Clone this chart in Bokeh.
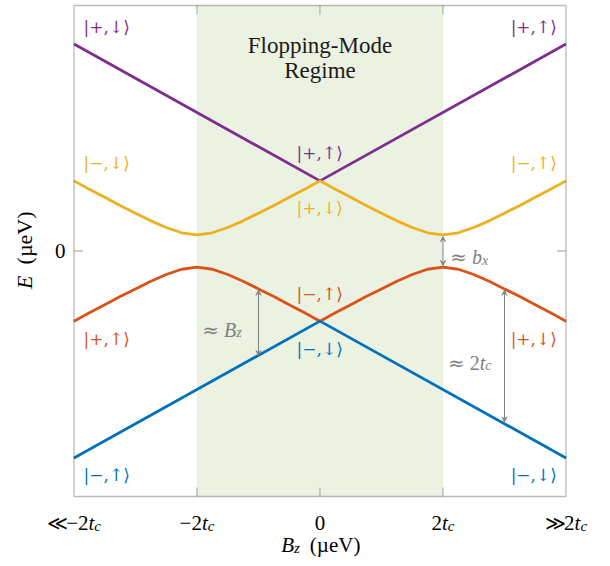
from bokeh.plotting import figure
from bokeh.models import Label, Arrow, VeeHead, BoxAnnotation, Range1d
from bokeh.embed import file_html
from bokeh.resources import INLINE
import math

# ---------------- data ----------------
bz_lines = [-4, 0, 4]
e_purple = [5.9, 2.0, 5.9]
e_blue = [-5.9, -2.0, -5.9]

bz_curve = [-4.0, -3.75, -3.5, -3.25, -3.0, -2.75, -2.5, -2.25, -2.0, -1.75, -1.5, -1.25, -1.0,
            -0.75, -0.5, -0.25, 0.0, 0.25, 0.5, 0.75, 1.0, 1.25, 1.5, 1.75, 2.0, 2.25, 2.5,
            2.75, 3.0, 3.25, 3.5, 3.75, 4.0]
e_yellow = [2.00, 1.76, 1.53, 1.30, 1.08, 0.86, 0.67, 0.52, 0.46, 0.52, 0.67, 0.86, 1.08,
            1.30, 1.53, 1.76, 2.00, 1.76, 1.53, 1.30, 1.08, 0.86, 0.67, 0.52, 0.46, 0.52, 0.67,
            0.86, 1.08, 1.30, 1.53, 1.76, 2.00]
e_red = [-2.00, -1.76, -1.53, -1.30, -1.08, -0.86, -0.67, -0.52, -0.46, -0.52, -0.67, -0.86, -1.08,
         -1.30, -1.53, -1.76, -2.00, -1.76, -1.53, -1.30, -1.08, -0.86, -0.67, -0.52, -0.46, -0.52, -0.67,
         -0.86, -1.08, -1.30, -1.53, -1.76, -2.00]

# plot box (axis limits) and shaded flopping-mode regime
x_min, x_max = -4, 4
e_min, e_max = -7, 7
regime_left, regime_right = -2, 2

# ticks and tick labels
x_ticks = [-2, 0, 2]
y_ticks = [0]
tick_values = [-4, -2, 0, 2, 4]
tick_rel = ["≪", "", "", "", "≫"]
tick_num = ["−2", "−2", "0", "2", "2"]
tick_var = ["t", "t", "", "t", "t"]
tick_sub = ["c", "c", "", "c", "c"]

# state labels
ket_text = ["|+,↓⟩", "|+,↑⟩", "|−,↓⟩", "|−,↑⟩", "|+,↑⟩", "|+,↓⟩",
            "|−,↑⟩", "|−,↓⟩", "|+,↑⟩", "|+,↓⟩", "|−,↑⟩", "|−,↓⟩"]
ket_color = ["purple", "purple", "yellow", "yellow", "purple", "yellow",
             "red", "blue", "red", "red", "blue", "blue"]
ket_x = [-3.845, 3.10, -3.845, 3.10, -0.38, -0.38, -0.38, -0.38, -3.845, 3.10, -3.845, 3.10]
ket_e = [6.39, 6.39, 2.51, 2.51, 2.79, 1.23, -1.23, -2.79, -2.51, -2.51, -6.39, -6.39]

# gap arrows
arrow_x = [2, -1, 3]
arrow_top = [0.41, -1.12, -1.12]
arrow_bot = [-0.41, -2.98, -4.87]

COLORS = {"purple": "#7E2F8E", "yellow": "#EDB120", "red": "#D95319", "blue": "#0072BD"}
FONT = "Liberation Serif"
SYM_SERIF = "DejaVu Serif"
SYM_SANS = "DejaVu Sans"
GRAY = "#808080"
TICK = "#a0a0a0"

# ---------------- figure (whole canvas is the data area) ----------------
p = figure(width=610, height=566, x_range=Range1d(-5.195, 4.724), y_range=Range1d(-8.996, 7.143),
           output_backend="svg", toolbar_location=None,
           min_border_left=0, min_border_right=0, min_border_top=0, min_border_bottom=0,
           x_axis_location=None, y_axis_location=None)
p.grid.visible = False
p.outline_line_color = None
p.background_fill_color = "white"
p.border_fill_color = "white"

p.add_layout(BoxAnnotation(left=regime_left, right=regime_right, bottom=e_min, top=e_max,
                           fill_color="#ECF2E2", fill_alpha=1.0, line_color=None, level="underlay"))

# tick marks (inward, on all four sides)
tx = 9 / 61.5
ty = 9 / 35.07
p.segment(x0=x_ticks, y0=[e_min] * len(x_ticks), x1=x_ticks, y1=[e_min + ty] * len(x_ticks),
          line_color=TICK, line_width=1)
p.segment(x0=x_ticks, y0=[e_max] * len(x_ticks), x1=x_ticks, y1=[e_max - ty] * len(x_ticks),
          line_color=TICK, line_width=1)
p.segment(x0=[x_min] * len(y_ticks), y0=y_ticks, x1=[x_min + tx] * len(y_ticks), y1=y_ticks,
          line_color=TICK, line_width=1)
p.segment(x0=[x_max] * len(y_ticks), y0=y_ticks, x1=[x_max - tx] * len(y_ticks), y1=y_ticks,
          line_color=TICK, line_width=1)

p.line(bz_lines, e_purple, line_color=COLORS["purple"], line_width=2.8)
p.line(bz_curve, e_yellow, line_color=COLORS["yellow"], line_width=2.8)
p.line(bz_curve, e_red, line_color=COLORS["red"], line_width=2.8)
p.line(bz_lines, e_blue, line_color=COLORS["blue"], line_width=2.8)

# plot frame
p.add_layout(BoxAnnotation(left=x_min, right=x_max, bottom=e_min, top=e_max, fill_color=None,
                           fill_alpha=0, line_color="#1e1e1e", line_width=1.3, level="overlay"))

for xa, yt, yb in zip(arrow_x, arrow_top, arrow_bot):
    p.add_layout(Arrow(x_start=xa, y_start=yb, x_end=xa, y_end=yt,
                       start=VeeHead(size=5, fill_color=GRAY, line_color=GRAY, line_width=1),
                       end=VeeHead(size=5, fill_color=GRAY, line_color=GRAY, line_width=1),
                       line_color=GRAY, line_width=1))

for t, c, xk, ek in zip(ket_text, ket_color, ket_x, ket_e):
    p.add_layout(Label(x=xk, y=ek, text=t, text_color=COLORS[c], text_font=SYM_SERIF,
                       text_font_size="17px", text_align="left", text_baseline="middle"))

# ---------------- mixed-style text helper ----------------
WN = {"−": 0.564, "2": 0.5, "0": 0.5, "(": 0.333, ")": 0.333, "µ": 0.5, "e": 0.444, "V": 0.722,
      " ": 0.25}
WI = {"t": 0.278, "c": 0.444, "B": 0.611, "b": 0.5, "x": 0.444, "z": 0.389, "E": 0.611}
WSYM = {"≪": 0.96, "≫": 0.96, "≈": 0.838}


def P(text, italic=False, size=20, dy=0, font=FONT):
    return (text, italic, size, dy, font)


def pw(part):
    text, italic, size, dy, font = part
    if font != FONT:
        return sum(WSYM.get(ch, 0.6) for ch in text) * size
    tbl = WI if italic else WN
    return sum(tbl.get(ch, 0.5) for ch in text) * size


def pieces(x, y, parts, align="center", color="black", rotated=False):
    widths = [pw(pt) for pt in parts]
    total = sum(widths)
    off = {"left": 0.0, "center": -total / 2, "right": -total}[align]
    for (t, it, sz, dy, font), w in zip(parts, widths):
        if t.strip():
            kw = dict(x=x, y=y, text=t, text_font=font, text_font_size=f"{sz}px",
                      text_font_style="italic" if it else "normal", text_color=color,
                      text_align="left", text_baseline="alphabetic")
            if rotated:
                kw.update(angle=math.pi / 2, y_offset=off, x_offset=dy)
            else:
                kw.update(x_offset=off, y_offset=-dy)
            p.add_layout(Label(**kw))
        off += w


# x tick labels
for tv, rel, num, var, sub in zip(tick_values, tick_rel, tick_num, tick_var, tick_sub):
    pieces(tv, -7.756, [P(rel, size=20, font=SYM_SANS), P(num, size=21), P(var, True, 21),
                        P(sub, True, 15, 3)])

# y tick label
for yv in y_ticks:
    p.add_layout(Label(x=x_min, y=yv, x_offset=-8.5, text="0", text_font=FONT, text_font_size="21px",
                       text_align="right", text_baseline="middle", text_color="black"))

# axis titles
pieces(0, -8.369, [P("B", True, 21), P("z", True, 15, 3), P("  "), P("(µeV)", size=21)])
pieces(-4.80, 0, [P("E", True, 22), P("  ", size=22), P("(µeV)", size=22)], rotated=True)

# gap annotations
pieces(2.12, -0.185, [P("≈", size=20, font=SYM_SERIF), P(" "), P("b", True, 20), P("x", True, 14, 3)],
       align="left", color=GRAY)
pieces(-1.915, -2.247, [P("≈", size=20, font=SYM_SERIF), P(" "), P("B", True, 20), P("z", True, 14, 3)],
       align="left", color=GRAY)
pieces(2.08, -3.19, [P("≈", size=20, font=SYM_SERIF), P(" "), P("2", size=20), P("t", True, 20),
                     P("c", True, 14, 3)], align="left", color=GRAY)

# regime title
p.add_layout(Label(x=0, y=5.86, text="Flopping-Mode", text_font=FONT, text_font_size="23px",
                   text_align="center", text_baseline="middle", text_color="#1a1a1a"))
p.add_layout(Label(x=0, y=5.14, text="Regime", text_font=FONT, text_font_size="23px",
                   text_align="center", text_baseline="middle", text_color="#1a1a1a"))

open("out.html", "w").write(file_html(p, INLINE))
